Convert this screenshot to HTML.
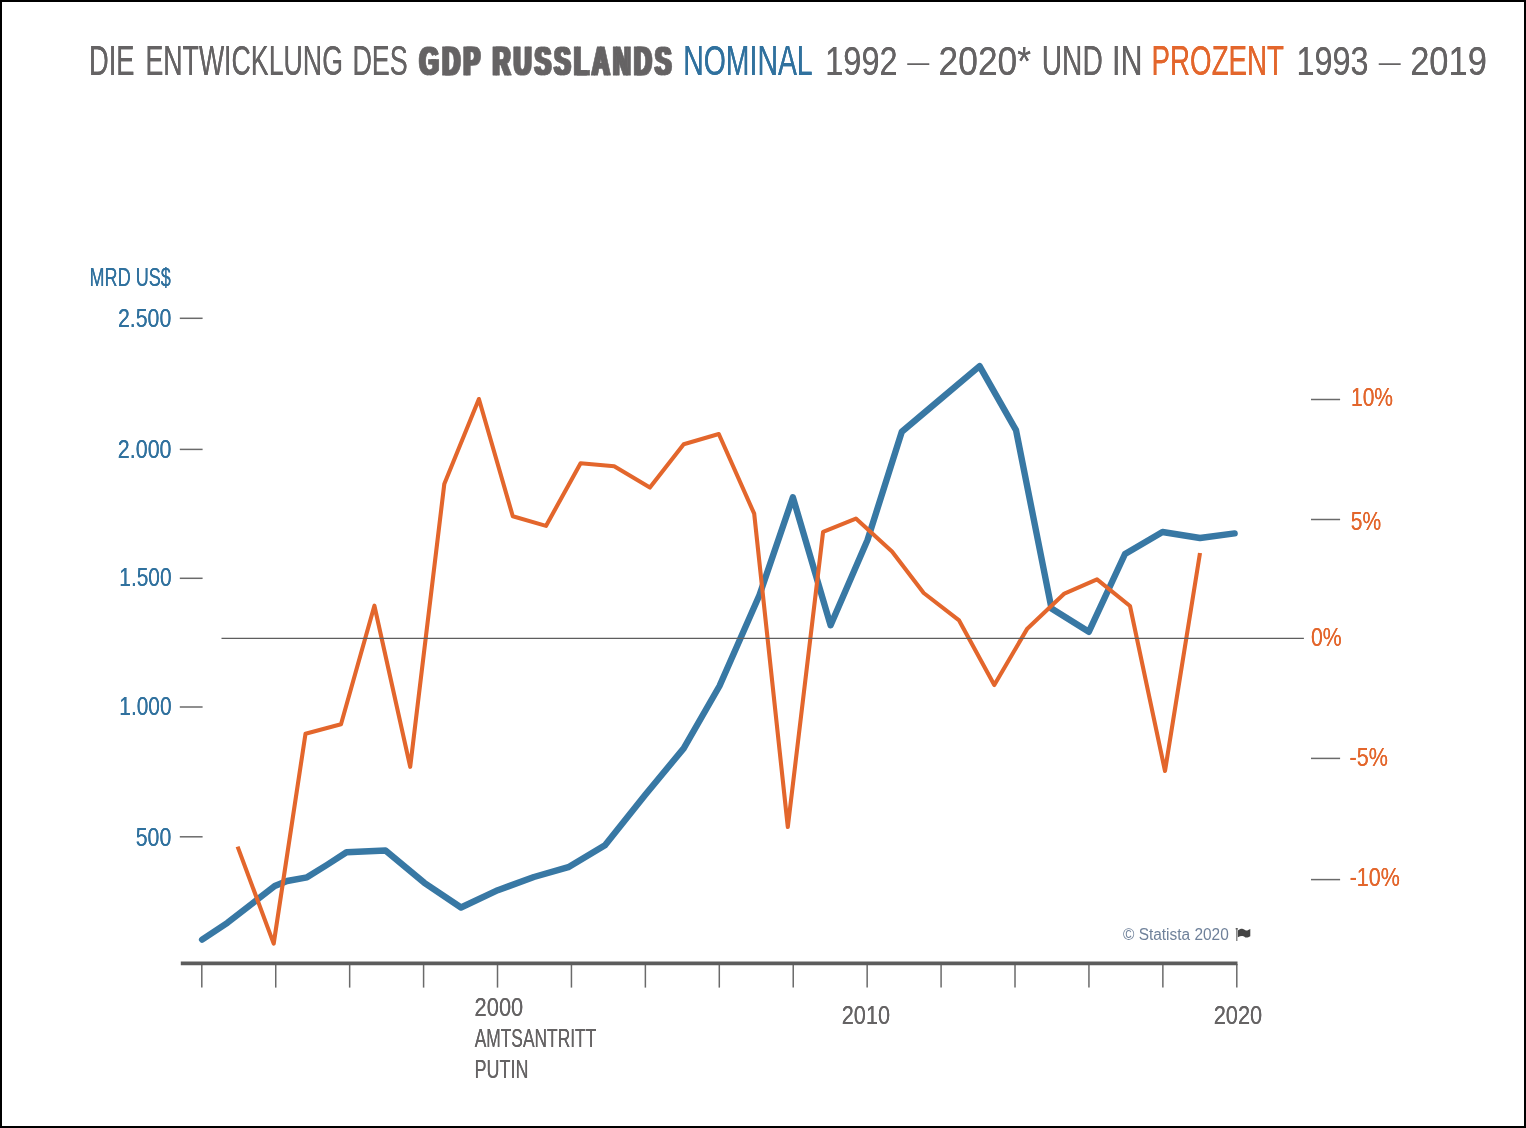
<!DOCTYPE html>
<html lang="de">
<head>
<meta charset="utf-8">
<title>Die Entwicklung des GDP Russlands nominal 1992 – 2020 und in Prozent 1993 – 2019</title>
<style>
html,body{margin:0;padding:0;background:#fff;}
body{width:1526px;height:1128px;overflow:hidden;position:relative;}
#frame{position:absolute;left:0;top:0;box-sizing:border-box;width:1526px;height:1128px;border:2px solid #000;background:#fff;}
svg{position:absolute;left:0;top:0;display:block;}
text{font-family:"Liberation Sans",sans-serif;}
</style>
</head>
<body>
<div id="frame"></div>
<svg width="1526" height="1128" viewBox="0 0 1526 1128">
<g class="title">
<text id="t1" x="89.03" y="75.00" font-size="42" fill="#656364" style="filter:drop-shadow(0.9px 0 0 #656364)" textLength="45.44" lengthAdjust="spacingAndGlyphs">DIE</text>
<text id="t2" x="145.46" y="75.00" font-size="42" fill="#656364" style="filter:drop-shadow(0.9px 0 0 #656364)" textLength="197.47" lengthAdjust="spacingAndGlyphs">ENTWICKLUNG</text>
<text id="t3" x="352.45" y="75.00" font-size="42" fill="#656364" style="filter:drop-shadow(0.9px 0 0 #656364)" textLength="55.31" lengthAdjust="spacingAndGlyphs">DES</text>
<text id="t4" x="418.03" y="74.70" font-size="41" fill="#656364" font-weight="700" letter-spacing="5.5" stroke="#656364" stroke-width="0.8" stroke-linejoin="round" style="filter:drop-shadow(3.3px 0 0 #656364)" textLength="63.86" lengthAdjust="spacingAndGlyphs">GDP</text>
<text id="t5" x="491.25" y="74.70" font-size="41" fill="#656364" font-weight="700" letter-spacing="5.5" stroke="#656364" stroke-width="0.8" stroke-linejoin="round" style="filter:drop-shadow(3.3px 0 0 #656364)" textLength="181.86" lengthAdjust="spacingAndGlyphs">RUSSLANDS</text>
<text id="t6" x="683.24" y="75.00" font-size="42" fill="#30719e" style="filter:drop-shadow(0.9px 0 0 #30719e)" textLength="129.43" lengthAdjust="spacingAndGlyphs">NOMINAL</text>
<text id="t7" x="825.29" y="75.00" font-size="41" fill="#656364" style="filter:drop-shadow(0.9px 0 0 #656364)" textLength="72.34" lengthAdjust="spacingAndGlyphs">1992</text>
<text id="t8" x="907.23" y="70.50" font-size="26" fill="#656364" textLength="22.04" lengthAdjust="spacingAndGlyphs">–</text>
<text id="t9" x="938.62" y="75.00" font-size="41" fill="#656364" style="filter:drop-shadow(0.9px 0 0 #656364)" textLength="92.34" lengthAdjust="spacingAndGlyphs">2020*</text>
<text id="t10" x="1041.68" y="75.00" font-size="42" fill="#656364" style="filter:drop-shadow(0.9px 0 0 #656364)" textLength="61.08" lengthAdjust="spacingAndGlyphs">UND</text>
<text id="t11" x="1111.96" y="75.00" font-size="42" fill="#656364" style="filter:drop-shadow(0.9px 0 0 #656364)" textLength="30.50" lengthAdjust="spacingAndGlyphs">IN</text>
<text id="t12" x="1151.52" y="75.00" font-size="42" fill="#e3662c" style="filter:drop-shadow(0.9px 0 0 #e3662c)" textLength="132.54" lengthAdjust="spacingAndGlyphs">PROZENT</text>
<text id="t13" x="1296.50" y="75.00" font-size="41" fill="#656364" style="filter:drop-shadow(0.9px 0 0 #656364)" textLength="72.13" lengthAdjust="spacingAndGlyphs">1993</text>
<text id="t14" x="1378.84" y="70.50" font-size="26" fill="#656364" textLength="21.95" lengthAdjust="spacingAndGlyphs">–</text>
<text id="t15" x="1410.15" y="75.00" font-size="41" fill="#656364" style="filter:drop-shadow(0.9px 0 0 #656364)" textLength="76.68" lengthAdjust="spacingAndGlyphs">2019</text>
</g>
<g class="left-axis">
<line x1="179.8" x2="202.6" y1="318.3" y2="318.3" stroke="#6a6a6a" stroke-width="1.5"/>
<line x1="179.8" x2="202.6" y1="449.4" y2="449.4" stroke="#6a6a6a" stroke-width="1.5"/>
<line x1="179.8" x2="202.6" y1="578.3" y2="578.3" stroke="#6a6a6a" stroke-width="1.5"/>
<line x1="179.8" x2="202.6" y1="707.0" y2="707.0" stroke="#6a6a6a" stroke-width="1.5"/>
<line x1="179.8" x2="202.6" y1="836.8" y2="836.8" stroke="#6a6a6a" stroke-width="1.5"/>
</g>
<g class="left-labels">
<text id="l0" x="89.57" y="285.90" font-size="26" fill="#30719e" style="filter:drop-shadow(0.5px 0 0 #30719e)" textLength="81.25" lengthAdjust="spacingAndGlyphs">MRD US$</text>
<text id="l1" x="117.93" y="327.00" font-size="26" fill="#30719e" style="filter:drop-shadow(0.4px 0 0 #30719e)" textLength="53.31" lengthAdjust="spacingAndGlyphs">2.500</text>
<text id="l2" x="117.86" y="458.20" font-size="26" fill="#30719e" style="filter:drop-shadow(0.4px 0 0 #30719e)" textLength="53.63" lengthAdjust="spacingAndGlyphs">2.000</text>
<text id="l3" x="119.30" y="586.00" font-size="26" fill="#30719e" style="filter:drop-shadow(0.4px 0 0 #30719e)" textLength="52.28" lengthAdjust="spacingAndGlyphs">1.500</text>
<text id="l4" x="119.30" y="715.00" font-size="26" fill="#30719e" style="filter:drop-shadow(0.4px 0 0 #30719e)" textLength="52.28" lengthAdjust="spacingAndGlyphs">1.000</text>
<text id="l5" x="135.70" y="846.00" font-size="26" fill="#30719e" style="filter:drop-shadow(0.4px 0 0 #30719e)" textLength="35.54" lengthAdjust="spacingAndGlyphs">500</text>
</g>
<g class="right-axis">
<line x1="1311" x2="1340.1" y1="399.5" y2="399.5" stroke="#6a6a6a" stroke-width="1.5"/>
<line x1="1311" x2="1340.1" y1="519.5" y2="519.5" stroke="#6a6a6a" stroke-width="1.5"/>
<line x1="1311" x2="1340.1" y1="758.4" y2="758.4" stroke="#6a6a6a" stroke-width="1.5"/>
<line x1="1311" x2="1340.1" y1="879.6" y2="879.6" stroke="#6a6a6a" stroke-width="1.5"/>
</g>
<g class="right-labels">
<text id="r1" x="1350.93" y="406.00" font-size="26" fill="#e3662c" style="filter:drop-shadow(0.4px 0 0 #e3662c)" textLength="42.13" lengthAdjust="spacingAndGlyphs">10%</text>
<text id="r2" x="1350.76" y="530.00" font-size="26" fill="#e3662c" style="filter:drop-shadow(0.4px 0 0 #e3662c)" textLength="30.33" lengthAdjust="spacingAndGlyphs">5%</text>
<text id="r3" x="1311.07" y="646.00" font-size="26" fill="#e3662c" style="filter:drop-shadow(0.4px 0 0 #e3662c)" textLength="30.67" lengthAdjust="spacingAndGlyphs">0%</text>
<text id="r4" x="1349.62" y="766.00" font-size="26" fill="#e3662c" style="filter:drop-shadow(0.4px 0 0 #e3662c)" textLength="38.36" lengthAdjust="spacingAndGlyphs">-5%</text>
<text id="r5" x="1349.63" y="885.80" font-size="26" fill="#e3662c" style="filter:drop-shadow(0.4px 0 0 #e3662c)" textLength="50.23" lengthAdjust="spacingAndGlyphs">-10%</text>
</g>
<g class="x-axis">
<line x1="201.80" x2="201.80" y1="964" y2="987.6" stroke="#6a6a6a" stroke-width="1.5"/>
<line x1="275.73" x2="275.73" y1="964" y2="987.6" stroke="#6a6a6a" stroke-width="1.5"/>
<line x1="349.66" x2="349.66" y1="964" y2="987.6" stroke="#6a6a6a" stroke-width="1.5"/>
<line x1="423.59" x2="423.59" y1="964" y2="987.6" stroke="#6a6a6a" stroke-width="1.5"/>
<line x1="497.51" x2="497.51" y1="964" y2="987.6" stroke="#6a6a6a" stroke-width="1.5"/>
<line x1="571.44" x2="571.44" y1="964" y2="987.6" stroke="#6a6a6a" stroke-width="1.5"/>
<line x1="645.37" x2="645.37" y1="964" y2="987.6" stroke="#6a6a6a" stroke-width="1.5"/>
<line x1="719.30" x2="719.30" y1="964" y2="987.6" stroke="#6a6a6a" stroke-width="1.5"/>
<line x1="793.23" x2="793.23" y1="964" y2="987.6" stroke="#6a6a6a" stroke-width="1.5"/>
<line x1="867.16" x2="867.16" y1="964" y2="987.6" stroke="#6a6a6a" stroke-width="1.5"/>
<line x1="941.09" x2="941.09" y1="964" y2="987.6" stroke="#6a6a6a" stroke-width="1.5"/>
<line x1="1015.01" x2="1015.01" y1="964" y2="987.6" stroke="#6a6a6a" stroke-width="1.5"/>
<line x1="1088.94" x2="1088.94" y1="964" y2="987.6" stroke="#6a6a6a" stroke-width="1.5"/>
<line x1="1162.87" x2="1162.87" y1="964" y2="987.6" stroke="#6a6a6a" stroke-width="1.5"/>
<line x1="1236.80" x2="1236.80" y1="964" y2="987.6" stroke="#6a6a6a" stroke-width="1.5"/>
<line x1="180.8" x2="1237.5" y1="963.3" y2="963.3" stroke="#5c5c5c" stroke-width="3.7"/>
</g>
<g class="x-labels">
<text id="x1" x="474.61" y="1016.00" font-size="26" fill="#656364" style="filter:drop-shadow(0.4px 0 0 #656364)" textLength="48.58" lengthAdjust="spacingAndGlyphs">2000</text>
<text id="x2" x="474.68" y="1046.80" font-size="26" fill="#656364" style="filter:drop-shadow(0.4px 0 0 #656364)" textLength="121.61" lengthAdjust="spacingAndGlyphs">AMTSANTRITT</text>
<text id="x3" x="474.48" y="1077.90" font-size="26" fill="#656364" style="filter:drop-shadow(0.4px 0 0 #656364)" textLength="54.03" lengthAdjust="spacingAndGlyphs">PUTIN</text>
<text id="x4" x="841.81" y="1024.20" font-size="26" fill="#656364" style="filter:drop-shadow(0.4px 0 0 #656364)" textLength="48.22" lengthAdjust="spacingAndGlyphs">2010</text>
<text id="x5" x="1213.66" y="1024.00" font-size="26" fill="#656364" style="filter:drop-shadow(0.4px 0 0 #656364)" textLength="48.50" lengthAdjust="spacingAndGlyphs">2020</text>
</g>
<g class="series">
<polyline points="202.1,939.6 227.4,922.8 252.3,903.5 274.7,886.0 287.1,881.0 307.0,877.3 327.0,864.9 346.5,852.3 385.5,850.5 424.3,882.8 461.0,907.5 497.8,890.2 533.9,877.0 568.3,867.2 605.0,845.2 645.5,794.4 683.7,748.4 719.5,686.0 759.5,595.0 792.9,497.3 830.6,625.3 867.5,540.0 901.8,431.7 941.5,398.3 979.6,366.1 1016.0,430.1 1051.5,608.5 1088.8,631.8 1125.0,554.0 1162.5,532.0 1200.0,538.0 1234.6,533.4" fill="none" stroke="#3878a4" stroke-width="6.4" stroke-linejoin="round" stroke-linecap="round"/>
<polyline points="237.6,846.6 273.7,943.6 305.5,733.8 341.0,724.2 374.4,605.7 410.2,766.8 444.3,484.0 478.9,399.0 512.8,516.3 546.0,525.9 580.6,463.2 614.2,466.2 649.9,487.5 683.7,444.2 718.8,434.0 754.2,513.7 787.8,827.0 823.1,531.8 855.9,518.6 892.0,551.5 923.7,593.0 959.1,620.4 994.3,685.0 1027.0,629.1 1064.4,593.6 1097.0,579.3 1130.0,606.0 1165.0,771.0 1200.0,553.0" fill="none" stroke="#e3662c" stroke-width="4.1" stroke-linejoin="round" stroke-linecap="butt"/>
<line x1="221.5" x2="1303.9" y1="638.4" y2="638.4" stroke="#5e5e5e" stroke-width="1.3"/>
</g>
<g class="credit">
<rect x="1236.0" y="928.4" width="1.5" height="12.6" fill="#8c8c8c"/>
<rect x="1235.6" y="928.0" width="2.2" height="1.6" rx="0.6" fill="#5a5a5a"/>
<path d="M1237.8 930.4 C1239.5 929.2 1241 928.6 1242.3 928.8 C1244.5 929.2 1245 930.6 1246.3 930.5 C1247.8 930.4 1248.8 929.4 1250.3 928.9 L1250.3 936.2 C1248.8 936.8 1247.8 937.6 1246.3 937.6 C1245 937.6 1244 936.2 1242.3 936 C1241 935.9 1239.5 936.4 1237.8 937.2 Z" fill="#444"/>
</g>
<g class="credit-text">
<text id="s1" x="1122.98" y="939.70" font-size="16" fill="#6f819a" textLength="105.80" lengthAdjust="spacingAndGlyphs">© Statista 2020</text>
</g>
</svg>
</body>
</html>
